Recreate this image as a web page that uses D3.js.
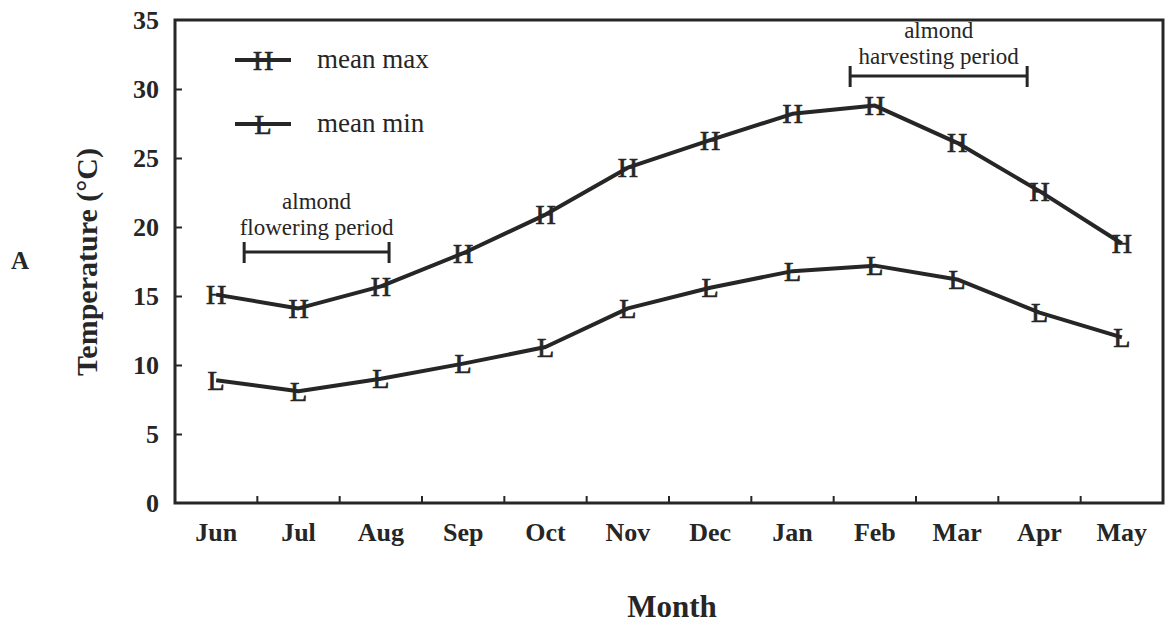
<!DOCTYPE html>
<html>
<head>
<meta charset="utf-8">
<script src="https://cdn.jsdelivr.net/npm/d3@7"></script>
<style>
  html, body { margin: 0; padding: 0; background: #fff; }
  svg { display: block; }
</style>
</head>
<body>
<svg id="chart" width="1168" height="627"></svg>
<script>
// Monthly mean temperatures (°C), June to May
const months = ["Jun", "Jul", "Aug", "Sep", "Oct", "Nov", "Dec", "Jan", "Feb", "Mar", "Apr", "May"];
const meanMax = [15.1, 14.1, 15.7, 18.1, 20.9, 24.3, 26.3, 28.2, 28.8, 26.1, 22.6, 18.8];
const meanMin = [8.9, 8.1, 9.0, 10.1, 11.3, 14.1, 15.6, 16.8, 17.2, 16.2, 13.8, 12.0];
const yTicks = [0, 5, 10, 15, 20, 25, 30, 35];

// Seasonal periods, in month-index units (0 = centre of Jun)
const flowering = { lines: ["almond", "flowering period"], from: 0.34, to: 2.1 };
const harvesting = { lines: ["almond", "harvesting period"], from: 7.7, to: 9.85 };

const ink = "#262626";
const serif = "'Liberation Serif', 'Times New Roman', 'DejaVu Serif', serif";
const svg = d3.select("#chart")
  .attr("font-family", serif);
const plot = { left: 175, right: 1163, top: 20, bottom: 503 };

const x = d3.scaleBand().domain(months).range([plot.left, plot.right]).padding(0);
const y = d3.scaleLinear().domain([0, 35]).range([plot.bottom, plot.top]);
const xi = d3.scaleLinear()
  .domain([0, months.length - 1])
  .range([x(months[0]) + x.bandwidth() / 2, x(months[months.length - 1]) + x.bandwidth() / 2]);

function label(sel) {
  return sel.attr("font-family", serif).attr("fill", ink);
}

// Frame
svg.append("rect")
  .attr("x", plot.left).attr("y", plot.top)
  .attr("width", plot.right - plot.left).attr("height", plot.bottom - plot.top)
  .attr("fill", "none").attr("stroke", ink).attr("stroke-width", 3);

// Y axis: inward ticks and bold labels
const yAxis = svg.append("g").attr("transform", `translate(${plot.left},0)`)
  .call(d3.axisRight(y).tickValues(yTicks).tickSize(7).tickFormat(""));
yAxis.select(".domain").remove();
yAxis.selectAll(".tick line").attr("stroke", ink).attr("stroke-width", 2)
  .filter(d => d === 0 || d === 35).remove();

svg.append("g").selectAll("text").data(yTicks).join("text")
  .call(label)
  .attr("x", plot.left - 16).attr("y", d => y(d))
  .attr("dy", "0.34em")
  .attr("text-anchor", "end")
  .attr("font-size", 26).attr("font-weight", "bold")
  .text(d => d);

// X axis: ticks at month boundaries, pointing up into the plot
const bounds = months.slice(1).map(m => x(m));
svg.append("g").selectAll("line").data(bounds).join("line")
  .attr("x1", d => d).attr("x2", d => d)
  .attr("y1", plot.bottom).attr("y2", plot.bottom - 7)
  .attr("stroke", ink).attr("stroke-width", 2);

svg.append("g").selectAll("text").data(months).join("text")
  .call(label)
  .attr("x", d => x(d) + x.bandwidth() / 2).attr("y", 541)
  .attr("text-anchor", "middle")
  .attr("font-size", 26).attr("font-weight", "bold")
  .text(d => d);

// Axis titles and panel letter
svg.append("text").call(label)
  .attr("transform", "translate(97,262) rotate(-90)")
  .attr("text-anchor", "middle")
  .attr("font-size", 30).attr("font-weight", "bold")
  .text("Temperature (°C)");

svg.append("text").call(label)
  .attr("x", 672).attr("y", 617)
  .attr("text-anchor", "middle")
  .attr("font-size", 31).attr("font-weight", "bold")
  .text("Month");

svg.append("text").call(label)
  .attr("x", 20).attr("y", 269)
  .attr("text-anchor", "middle")
  .attr("font-size", 25).attr("font-weight", "bold")
  .text("A");

// Series lines with letter markers
const line = d3.line()
  .x((d, i) => x(months[i]) + x.bandwidth() / 2)
  .y(d => y(d));

const series = [
  { name: "mean max", values: meanMax, glyph: "H" },
  { name: "mean min", values: meanMin, glyph: "L" }
];

series.forEach(s => {
  svg.append("path").datum(s.values)
    .attr("d", line)
    .attr("fill", "none").attr("stroke", ink)
    .attr("stroke-width", 4).attr("stroke-linejoin", "round");
  svg.append("g").selectAll("text").data(s.values).join("text")
    .call(label)
    .attr("x", (d, i) => x(months[i]) + x.bandwidth() / 2)
    .attr("y", d => y(d))
    .attr("dy", "0.34em")
    .attr("text-anchor", "middle")
    .attr("font-size", 28)
    .attr("stroke", ink).attr("stroke-width", 0.7)
    .text(s.glyph);
});

// Legend
const legend = svg.append("g");
series.forEach((s, i) => {
  const ly = 60 + i * 64;
  legend.append("line")
    .attr("x1", 235).attr("x2", 291).attr("y1", ly).attr("y2", ly)
    .attr("stroke", ink).attr("stroke-width", 4);
  legend.append("text").call(label)
    .attr("x", 263).attr("y", ly).attr("dy", "0.34em")
    .attr("text-anchor", "middle").attr("font-size", 28)
    .attr("stroke", ink).attr("stroke-width", 0.7)
    .text(s.glyph);
  legend.append("text").call(label)
    .attr("x", 317).attr("y", ly).attr("dy", "0.3em")
    .attr("font-size", 27)
    .text(s.name);
});

// Period brackets with two-line captions
function period(p, barY, textY) {
  const x0 = xi(p.from), x1 = xi(p.to);
  const g = svg.append("g");
  g.append("line").attr("x1", x0).attr("x2", x1).attr("y1", barY).attr("y2", barY)
    .attr("stroke", ink).attr("stroke-width", 3);
  [x0, x1].forEach(xx => g.append("line")
    .attr("x1", xx).attr("x2", xx).attr("y1", barY - 10).attr("y2", barY + 11)
    .attr("stroke", ink).attr("stroke-width", 3));
  p.lines.forEach((t, i) => g.append("text").call(label)
    .attr("x", (x0 + x1) / 2).attr("y", textY + i * 26)
    .attr("text-anchor", "middle").attr("font-size", 23)
    .text(t));
}
period(flowering, 252, 209);
period(harvesting, 76, 38);
</script>
</body>
</html>
